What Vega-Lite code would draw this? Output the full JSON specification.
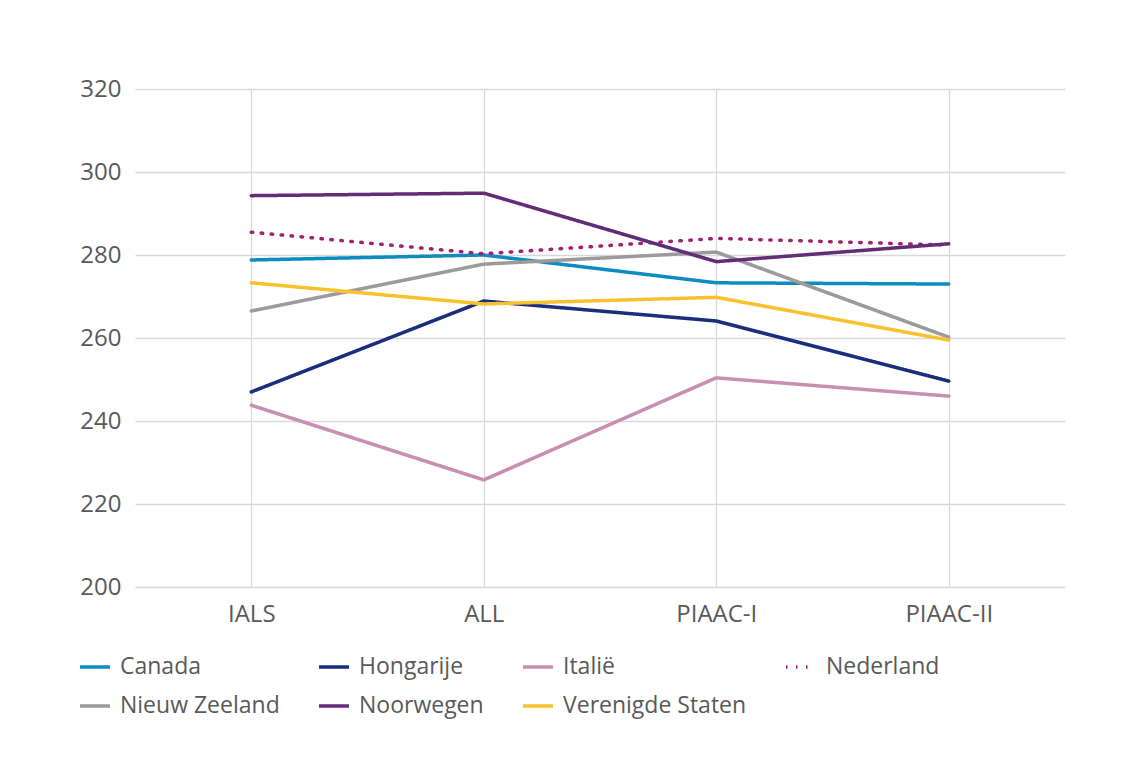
{
  "$schema": "https://vega.github.io/schema/vega-lite/v6.json",
  "width": 930,
  "height": 498,
  "autosize": "none",
  "padding": {"left": 135, "top": 89, "right": 67, "bottom": 184},
  "background": "white",
  "config": {
    "view": {"stroke": null},
    "font": "Open Sans",
    "axis": {"labelFont": "Open Sans", "labelColor": "#595959", "labelFontSize": 24, "gridColor": "#d9d9d9", "gridWidth": 1.3, "domain": false, "ticks": false},
    "legend": {"labelFont": "Open Sans", "labelColor": "#595959", "labelFontSize": 23, "labelLimit": 400}
  },
  "data": {
    "values": [
      {"s": "Canada", "t": "IALS", "v": 278.8},
      {"s": "Canada", "t": "ALL", "v": 280.0},
      {"s": "Canada", "t": "PIAAC-I", "v": 273.3},
      {"s": "Canada", "t": "PIAAC-II", "v": 273.0},
      {"s": "Hongarije", "t": "IALS", "v": 247.0},
      {"s": "Hongarije", "t": "ALL", "v": 268.9},
      {"s": "Hongarije", "t": "PIAAC-I", "v": 264.1},
      {"s": "Hongarije", "t": "PIAAC-II", "v": 249.6},
      {"s": "Italië", "t": "IALS", "v": 243.8},
      {"s": "Italië", "t": "ALL", "v": 225.8},
      {"s": "Italië", "t": "PIAAC-I", "v": 250.4},
      {"s": "Italië", "t": "PIAAC-II", "v": 246.0},
      {"s": "Nederland", "t": "IALS", "v": 285.5},
      {"s": "Nederland", "t": "ALL", "v": 280.3},
      {"s": "Nederland", "t": "PIAAC-I", "v": 284.0},
      {"s": "Nederland", "t": "PIAAC-II", "v": 282.4},
      {"s": "Nieuw Zeeland", "t": "IALS", "v": 266.5},
      {"s": "Nieuw Zeeland", "t": "ALL", "v": 277.8},
      {"s": "Nieuw Zeeland", "t": "PIAAC-I", "v": 280.7},
      {"s": "Nieuw Zeeland", "t": "PIAAC-II", "v": 260.2},
      {"s": "Noorwegen", "t": "IALS", "v": 294.3},
      {"s": "Noorwegen", "t": "ALL", "v": 294.9},
      {"s": "Noorwegen", "t": "PIAAC-I", "v": 278.4},
      {"s": "Noorwegen", "t": "PIAAC-II", "v": 282.7},
      {"s": "Verenigde Staten", "t": "IALS", "v": 273.3},
      {"s": "Verenigde Staten", "t": "ALL", "v": 268.2},
      {"s": "Verenigde Staten", "t": "PIAAC-I", "v": 269.8},
      {"s": "Verenigde Staten", "t": "PIAAC-II", "v": 259.5}
    ]
  },
  "mark": {"type": "line", "strokeWidth": 3.5, "strokeCap": "round", "strokeJoin": "round"},
  "encoding": {
    "x": {
      "field": "t", "type": "ordinal", "sort": ["IALS", "ALL", "PIAAC-I", "PIAAC-II"],
      "scale": {"type": "point", "padding": 0.5},
      "axis": {"title": null, "labelAngle": 0, "labelPadding": 15, "grid": true}
    },
    "y": {
      "field": "v", "type": "quantitative",
      "scale": {"domain": [200, 320], "nice": false, "zero": false},
      "axis": {"title": null, "values": [200, 220, 240, 260, 280, 300, 320], "labelPadding": 14}
    },
    "color": {
      "field": "s", "type": "nominal",
      "sort": ["Canada", "Hongarije", "Italië", "Nederland", "Nieuw Zeeland", "Noorwegen", "Verenigde Staten"],
      "scale": {
        "domain": ["Canada", "Hongarije", "Italië", "Nederland", "Nieuw Zeeland", "Noorwegen", "Verenigde Staten"],
        "range": ["#0E8CC0", "#1B2E7D", "#C98FB1", "#A2206E", "#9B9B9B", "#632C76", "#F8C22E"]
      },
      "legend": {
        "title": null, "orient": "none", "legendX": -57, "legendY": 561,
        "direction": "horizontal", "columns": 4, "columnPadding": 32, "rowPadding": 10,
        "symbolType": "stroke", "symbolSize": 900, "symbolStrokeWidth": 3.5, "labelOffset": 8
      }
    },
    "strokeDash": {
      "field": "s", "type": "nominal",
      "sort": ["Canada", "Hongarije", "Italië", "Nederland", "Nieuw Zeeland", "Noorwegen", "Verenigde Staten"],
      "scale": {
        "domain": ["Canada", "Hongarije", "Italië", "Nederland", "Nieuw Zeeland", "Noorwegen", "Verenigde Staten"],
        "range": [[1, 0], [1, 0], [1, 0], [1.5, 8.5], [1, 0], [1, 0], [1, 0]]
      },
      "legend": null
    }
  }
}
